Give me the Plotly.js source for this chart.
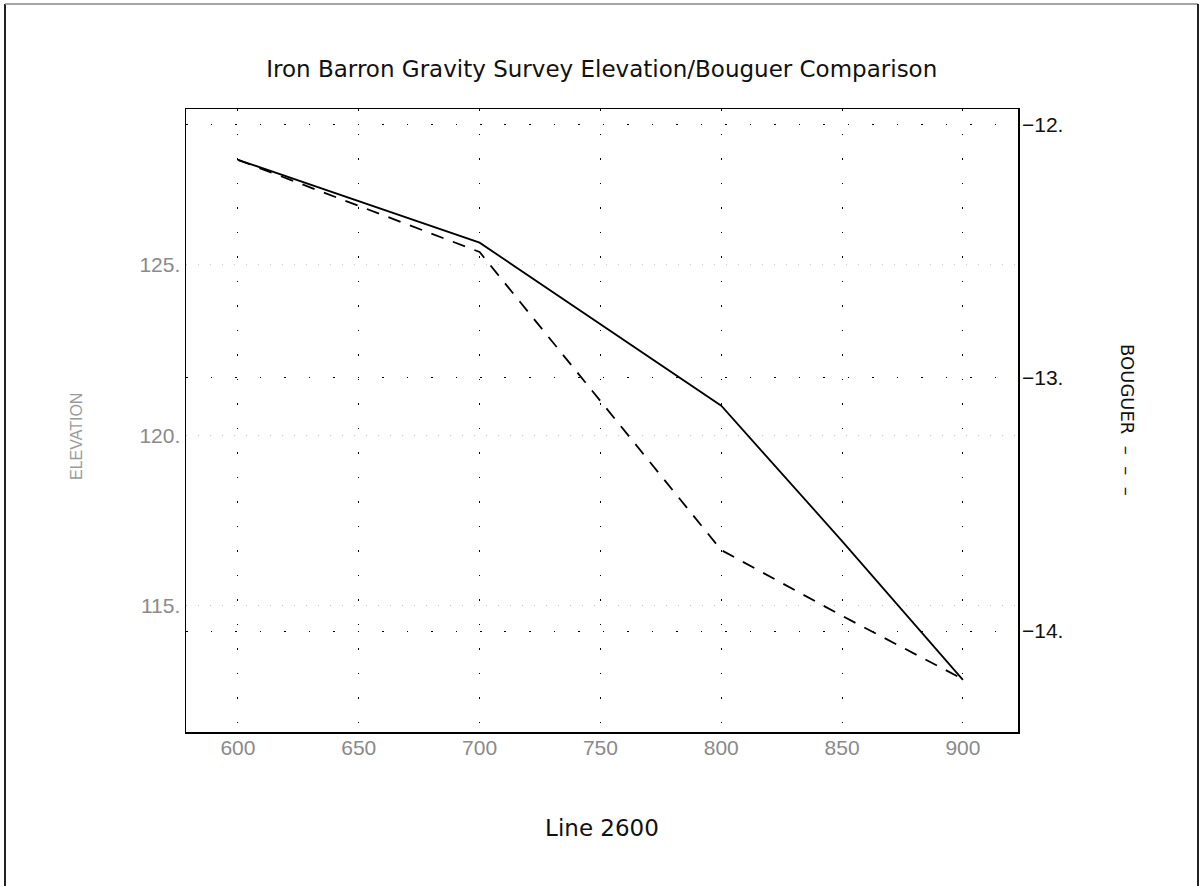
<!DOCTYPE html>
<html>
<head>
<meta charset="utf-8">
<script src="https://cdn.plot.ly/plotly-3.0.1.min.js"></script>
<style>
html,body{margin:0;padding:0;background:#fff;}
#chart{width:1200px;height:886px;}
</style>
</head>
<body>
<div id="chart"></div>
<script>
// Data
const stations = [600, 700, 800, 850, 900];
const elevation = [128.08, 125.65, 120.87, 116.9, 112.83];
const bouguer = [-12.138, -12.502, -13.68, -13.94, -14.19];

const xTicks = [600, 650, 700, 750, 800, 850, 900];
const xTickText = ["600", "650", "700", "750", "800", "850", "900"];
const elevTicks = [115, 120, 125];
const elevTickText = ["115.", "120.", "125."];
const bougTicks = [-14, -13, -12];
const bougTickText = ["\u221214.", "\u221213.", "\u221212."];

const FONT = "Liberation Sans, DejaVu Sans, sans-serif";
const TFONT = "DejaVu Sans, Liberation Sans, sans-serif";

const traces = [
  {
    x: stations, y: elevation, type: "scatter", mode: "lines",
    name: "ELEVATION", line: {color: "#000", width: 1.8}, yaxis: "y"
  },
  {
    x: stations, y: bouguer, type: "scatter", mode: "lines",
    name: "BOUGUER", line: {color: "#000", width: 1.8, dash: "13px,10px"}, yaxis: "y2"
  }
];

const W = 832, H = 623; // plot area size
const layout = {
  width: 1200, height: 886,
  margin: {l: 186, r: 182, t: 109, b: 154},
  paper_bgcolor: "#fff", plot_bgcolor: "#fff",
  showlegend: false,
  font: {family: FONT},
  title: {
    text: "Iron Barron Gravity Survey Elevation/Bouguer Comparison",
    font: {family: TFONT, size: 23, color: "#111"},
    x: 0.5015, xanchor: "center", y: 1 - 69 / 886, yanchor: "middle", yref: "container"
  },
  xaxis: {
    range: [578.5, 922.8],
    tickvals: xTicks, ticktext: xTickText,
    tickfont: {family: FONT, size: 21, color: "#8a8a8a"},
    ticklabelstandoff: -4,
    ticks: "", showline: true, linecolor: "#000", linewidth: 1.5, mirror: true,
    showgrid: true, gridcolor: "#000", gridwidth: 1, griddash: "1.5px,23px",
    zeroline: false,
    title: {text: "Line 2600", font: {family: TFONT, size: 23, color: "#111"}, standoff: 62}
  },
  yaxis: {
    range: [111.3, 129.57],
    tickvals: elevTicks, ticktext: elevTickText,
    tickfont: {family: FONT, size: 21, color: "#8a8a8a"},
    ticks: "", showline: true, linecolor: "#000", linewidth: 1.5, mirror: true,
    showgrid: true, gridcolor: "#c8c8c8", gridwidth: 1, griddash: "1px,11px",
    zeroline: false
  },
  yaxis2: {
    range: [-14.399, -11.937],
    overlaying: "y", side: "right",
    tickvals: bougTicks, ticktext: bougTickText,
    tickfont: {family: FONT, size: 21, color: "#111"},
    ticklabelstandoff: 3,
    ticks: "", showline: false,
    showgrid: true, gridcolor: "#000", gridwidth: 1, griddash: "1.5px,23px",
    zeroline: false
  },
  annotations: [
    {
      text: "ELEVATION", xref: "paper", yref: "paper",
      x: (76 - 186) / W, y: (732 - 437) / H, xanchor: "center", yanchor: "middle",
      textangle: -90, showarrow: false,
      font: {family: FONT, size: 16, color: "#9a9a9a"}
    },
    {
      text: "BOUGUER  \u2013  \u2013  \u2013", xref: "paper", yref: "paper",
      x: (1127 - 186) / W, y: (732 - 420) / H, xanchor: "center", yanchor: "middle",
      textangle: 90, showarrow: false,
      font: {family: TFONT, size: 18, color: "#111"}
    }
  ],
  shapes: [
    {type: "line", xref: "paper", yref: "paper", x0: (5 - 186) / W, x1: (5 - 186) / W,
     y0: (732 - 4) / H, y1: (732 - 900) / H, line: {color: "#222", width: 2}},
    {type: "line", xref: "paper", yref: "paper", x0: (5 - 186) / W, x1: (1198 - 186) / W,
     y0: (732 - 4) / H, y1: (732 - 4) / H, line: {color: "#888", width: 1.5}},
    {type: "line", xref: "paper", yref: "paper", x0: (1198 - 186) / W, x1: (1198 - 186) / W,
     y0: (732 - 4) / H, y1: (732 - 900) / H, line: {color: "#222", width: 2}}
  ]
};

Plotly.newPlot("chart", traces, layout, {displayModeBar: false, staticPlot: true});
</script>
</body>
</html>
